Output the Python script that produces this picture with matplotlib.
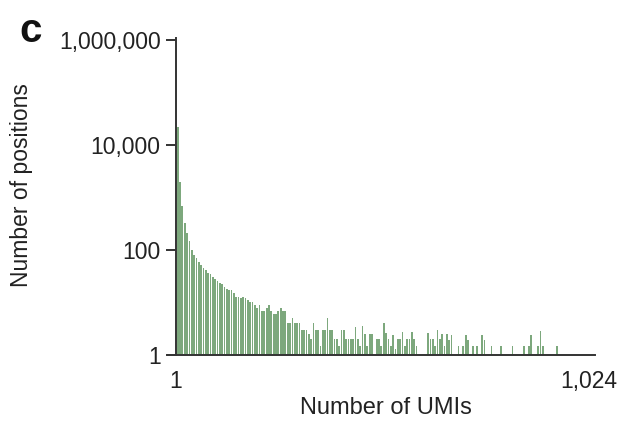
import matplotlib.pyplot as plt
import numpy as np

plt.rcParams['font.family'] = ['Liberation Sans', 'DejaVu Sans']

# UMI count histogram, equal-width bins starting just after 1
bin_width = 5.8
counts = [
    22000, 2000, 680, 330, 210, 150, 100, 82, 70, 58,
    52, 45, 41, 37, 35, 30, 28, 26, 24, 23,
    20, 18, 17, 17, 15, 13, 13, 12, 13, 12,
    11, 10, 10, 9, 8, 9, 7, 7, 8, 9,
    7, 6, 6, 7, 8, 7, 7, 4, 4, 5,
    4, 4, 4, 3, 3, 3, 2.5, 2, 4, 3,
    3, 1.5, 3, 3, 5, 3, 3, 2, 2, 1.5,
    3, 3, 2, 2, 2, 2, 3.4, 2, 1.5, 3.6,
    2.5, 1.5, 2.5, 2.5, 1, 2, 2, 1.5, 4, 2.6,
    2, 1.5, 2.4, 1.3, 2, 2, 2.7, 1.5, 2, 2,
    2.7, 2, 1.5, 0, 0, 0, 0, 2.6, 2, 2,
    1.5, 3, 2, 2.5, 1.5, 2.5, 1.9, 2.4, 0, 0,
    1.5, 0, 1.5, 2.4, 1.9, 0, 1.5, 0, 1.5, 0,
    2.4, 1.9, 0, 0, 1.5, 0, 0, 0, 1.5, 0,
    0, 0, 0, 1.5, 0, 0, 0, 0, 1.5, 0,
    1.5, 2.4, 0, 0, 1.5, 2.9, 1.5, 0, 0, 0,
    0, 0, 1.5,
]
xticks = [1, 1024]
xticklabels = ['1', '1,024']
yticks = [1, 100, 10000, 1000000]
yticklabels = ['1', '100', '10,000', '1,000,000']

counts = np.array(counts, dtype=float)
edges = 3 + bin_width * np.arange(len(counts))
keep = counts > 0

fig = plt.figure(figsize=(6.25, 4.26), dpi=100)
ax = fig.add_axes([168 / 625, 71 / 426, 427 / 625, 317 / 426])

ax.bar(edges[keep], counts[keep], width=4.3, align='edge',
       color='#5d925d', alpha=0.8, linewidth=0)

ax.set_yscale('log')
ax.set_ylim(1, 1.09e6)
ax.set_xlim(-18.8, 1039)

ax.spines['top'].set_visible(False)
ax.spines['right'].set_visible(False)
ax.spines['left'].set_position(('data', 1))
for s in ['left', 'bottom']:
    ax.spines[s].set_linewidth(1.4)
    ax.spines[s].set_color('#333333')

ax.set_yticks(yticks)
ax.set_yticklabels(yticklabels)
ax.yaxis.set_minor_locator(plt.NullLocator())
ax.set_xticks(xticks)
ax.set_xticklabels(xticklabels)
ax.tick_params(axis='y', length=7, width=1.4, color='#333333', pad=4,
               labelsize=16.5, labelcolor='#222222')
ax.tick_params(axis='x', length=0, pad=11, labelsize=16.5, labelcolor='#222222')

fig.text(22 / 625, 1 - 185 / 426, 'Number of positions', rotation=90,
         ha='center', va='center', fontsize=16.5, color='#222222')
fig.text(386 / 625, 1 - 408 / 426, 'Number of UMIs',
         ha='center', va='center', fontsize=17, color='#222222')
fig.text(31 / 625, 1 - 31 / 426, 'c', fontsize=29, fontweight='bold',
         ha='center', va='center', color='#111111')

fig.savefig('out.png', dpi=100)
